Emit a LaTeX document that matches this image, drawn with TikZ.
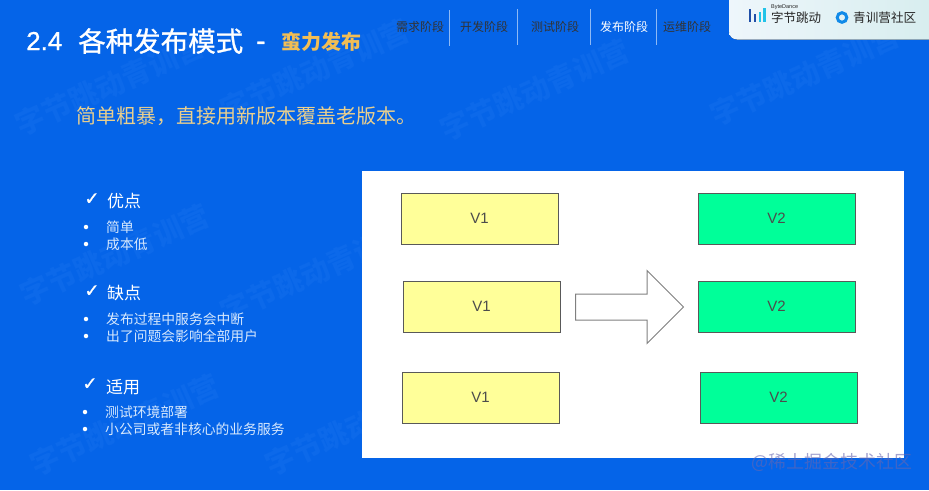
\documentclass[tikz,border=0pt]{standalone}
\usepackage{fontspec}
\setmainfont{Noto Sans CJK SC}
\newfontfamily\symfont[FakeBold=1]{DejaVu Sans}
\newfontfamily\latinfont{Liberation Sans}
\newfontfamily\medfont[FakeBold=1]{Noto Sans CJK SC}
\newfontfamily\medlatin[FakeBold=1]{Liberation Sans}
\usetikzlibrary{shapes.arrows}
\definecolor{slidebg}{HTML}{0564E8}
\definecolor{mark}{HTML}{0C69EA}
\definecolor{gold}{HTML}{F2BE55}
\definecolor{intro}{HTML}{E9CF8E}
\definecolor{paleblue}{HTML}{D8E9FD}
\definecolor{logoleft}{HTML}{EEF6FB}
\definecolor{logoright}{HTML}{D6EDEE}
\definecolor{logodark}{HTML}{1F4FA8}
\definecolor{logocyan}{HTML}{22C3E8}
\definecolor{boxyellow}{HTML}{FFFF99}
\definecolor{boxgreen}{HTML}{00FF99}
\begin{document}
\begin{tikzpicture}[x=1pt, y=-1pt, >=stealth, every node/.style={inner sep=0pt}]
\tikzset{
  vbox/.style={
    draw=black!65, line width=.7pt, rectangle,
    minimum width=157pt, minimum height=51pt,
    text=black!70, font=\latinfont\fontsize{15}{17}\selectfont
  },
  tab/.style={font=\fontsize{12}{14}\selectfont, text=black!80},
  sep/.style={draw=white!55!slidebg, line width=.9pt},
  head/.style={anchor=west, text=white, font=\fontsize{17}{20}\selectfont},
  item/.style={anchor=west, text=paleblue, font=\fontsize{13.8}{16}\selectfont},
  tick/.style={text=white, font=\symfont\fontsize{18}{22}\selectfont},
  dot/.style={circle, fill=white, minimum size=4.5pt},
  wm/.style={text=mark, rotate=24, font=\bfseries\fontsize{29}{34}\selectfont}
}
\useasboundingbox (0,0) rectangle (929,490);
\fill[slidebg] (0,0) rectangle (929,490);

% watermark
\foreach \i/\x/\y in {1/110/85, 2/315/70, 3/535/90, 4/805/75, 5/115/255, 6/315/272, 7/125/425, 8/360/425}
  \node[wm] (wm\i) at (\x,\y) {字节跳动青训营};

% title
\node[anchor=west, text=white, font=\medlatin\fontsize{26}{32}\selectfont] (num) at (26,41) {2.4};
\node[anchor=west, text=white, font=\medfont\fontsize{27.5}{32}\selectfont] (title) at (78,41) {各种发布模式};
\node[anchor=west, text=white, font=\medlatin\fontsize{28}{32}\selectfont] (dash) at (256,46) {-};
\node[anchor=west, text=gold, font=\bfseries\fontsize{20}{24}\selectfont] (sub) at (281,42) {蛮力发布};
\node[anchor=west, text=intro, font=\fontsize{20}{24}\selectfont] (lead) at (76,116) {简单粗暴，直接用新版本覆盖老版本。};

% stages
\node[tab] (need) at (420,27) {需求阶段};
\node[tab] (dev) at (484,27) {开发阶段};
\node[tab] (test) at (555,27) {测试阶段};
\node[tab, text=white] (rel) at (624,27) {发布阶段};
\node[tab] (ops) at (687,27) {运维阶段};
\foreach \x/\a/\b in {449/10/46, 517.5/9/45, 590.5/9/45, 656/9/45}
  \draw[sep] (\x,\a) -- (\x,\b);

% logo
\fill[left color=logoleft, right color=logoright, rounded corners=8pt] (729,-12) rectangle (945,39.5);
\foreach \x/\a/\c in {750/9/logodark, 755/14/logodark, 760/12/logocyan, 764.5/8/logocyan}
  \fill[\c] (\x-1.2,\a) rectangle (\x+1.2,21.5);
\node[anchor=west, text=black!85, font=\latinfont\fontsize{5.5}{6}\selectfont] (bd) at (771,7) {ByteDance};
\node[anchor=west, text=black!85, font=\fontsize{12.5}{14}\selectfont] (bytedance) at (771,18) {字节跳动};
\draw[logocyan!40!slidebg, line width=3pt] (842,17.5) circle (4.8);
\node[anchor=west, text=black!85, font=\fontsize{12.6}{14}\selectfont] (camp) at (853,17.5) {青训营社区};

% left lists
\node[tick] (c1) at (92,199) {✓};
\node[head] (pro) at (107,201) {优点};
\node[dot] (d1) at (86,227) {};
\node[item] (p1) at (106,227) {简单};
\node[dot] (d2) at (86,244) {};
\node[item] (p2) at (106,244) {成本低};
\node[tick] (c2) at (92,291) {✓};
\node[head] (con) at (107,293) {缺点};
\node[dot] (d3) at (86,319) {};
\node[item] (k1) at (106,319) {发布过程中服务会中断};
\node[dot] (d4) at (86,336) {};
\node[item] (k2) at (106,336) {出了问题会影响全部用户};
\node[tick] (c3) at (90,384) {✓};
\node[head] (use) at (106,387) {适用};
\node[dot] (d5) at (85,412) {};
\node[item] (u1) at (105,412) {测试环境部署};
\node[dot] (d6) at (85,429) {};
\node[item] (u2) at (105,429) {小公司或者非核心的业务服务};

% panel
\fill[white] (362,171) rectangle (904,458);
\node[vbox, fill=boxyellow] (va) at (479.5,218.5) {V1};
\node[vbox, fill=boxyellow] (vb) at (481.5,306.5) {V1};
\node[vbox, fill=boxyellow] (vc) at (480.5,397.5) {V1};
\node[vbox, fill=boxgreen] (wa) at (776.5,218.5) {V2};
\node[vbox, fill=boxgreen] (wb) at (776.5,306.5) {V2};
\node[vbox, fill=boxgreen] (wc) at (778.5,397.5) {V2};
\node[draw=black!50, line width=1pt, fill=white, single arrow, shape border rotate=0,
  minimum width=72pt, minimum height=108pt, inner ysep=12.5pt, inner xsep=0pt,
  single arrow head extend=23.5pt, single arrow tip angle=90] (shift) at (623,307) {};

% site mark
\node[text=black!50!blue!60!white, opacity=.6, font=\fontsize{17.9}{20}\selectfont] (site) at (832,462) {@稀土掘金技术社区};
\end{tikzpicture}
\end{document}
